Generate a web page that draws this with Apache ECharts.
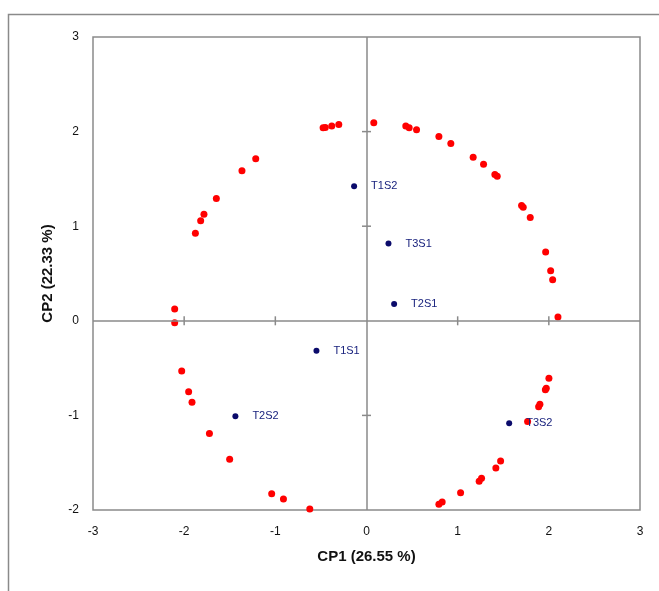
<!DOCTYPE html>
<html>
<head>
<meta charset="utf-8">
<script src="https://cdn.jsdelivr.net/npm/echarts@6/dist/echarts.min.js"></script>
<style>
  html, body { margin: 0; padding: 0; background: #fff; }
  #chart { width: 659px; height: 591px; }
</style>
</head>
<body>
<div id="chart"></div>
<script>
// Variable loadings on the first two principal components (circle of correlations)
const variablePoints = [
  [-0.476, 2.041], [-0.452, 2.044], [-0.381, 2.058], [-0.304, 2.076],
  [0.080, 2.094], [0.431, 2.058], [0.468, 2.041], [0.549, 2.020],
  [0.794, 1.949], [0.925, 1.875], [1.170, 1.730], [1.284, 1.656],
  [1.408, 1.547], [1.434, 1.529], [1.701, 1.219], [1.719, 1.201],
  [1.796, 1.091], [1.965, 0.728], [2.020, 0.530], [2.042, 0.435],
  [2.100, 0.040], [2.001, -0.606], [1.962, -0.728], [1.972, -0.712],
  [1.902, -0.881], [1.888, -0.909], [1.767, -1.065], [1.471, -1.481],
  [1.419, -1.555], [1.262, -1.664], [1.236, -1.696], [1.032, -1.817],
  [0.830, -1.915], [0.794, -1.939], [-0.622, -1.989], [-0.911, -1.883],
  [-1.040, -1.827], [-1.501, -1.463], [-1.723, -1.192], [-1.914, -0.860],
  [-1.951, -0.751], [-2.027, -0.531], [-2.104, -0.020], [-2.104, 0.125],
  [-1.877, 0.925], [-1.819, 1.057], [-1.783, 1.126], [-1.647, 1.293],
  [-1.366, 1.586], [-1.215, 1.713]
];

// Treatment scores
const treatmentNames = ['T1S1', 'T1S2', 'T2S1', 'T2S2', 'T3S1', 'T3S2'];
const treatmentCP1 = [-0.549, -0.136, 0.303, -1.438, 0.241, 1.565];
const treatmentCP2 = [-0.317, 1.423, 0.178, -1.008, 0.816, -1.082];

// Axis ranges and tick positions
const xRange = [-3, 3];
const yRange = [-2, 3];
const axisStep = 1;
const xCentreTicks = [-2, -1, 1, 2];
const yCentreTicks = [-1, 1, 2];

const xTitle = 'CP1 (26.55 %)';
const yTitle = 'CP2 (22.33 %)';

const font = '"Liberation Sans", Arial, sans-serif';
const frameColor = '#8a8a8a';

const treatmentData = treatmentNames.map((n, i) => ({
  name: n, value: [treatmentCP1[i], treatmentCP2[i]]
}));

// Tick marks crossing the central axes
const xTickMarks = xCentreTicks.map(v => [v, 0]);
const yTickMarks = yCentreTicks.map(v => [0, v]);

const chart = echarts.init(document.getElementById('chart'), null, { renderer: 'canvas' });

chart.setOption({
  backgroundColor: '#ffffff',
  animation: false,
  graphic: [{
    type: 'rect',
    shape: { x: 8.5, y: 14.5, width: 800, height: 800 },
    style: { fill: 'none', stroke: frameColor, lineWidth: 1.5 },
    silent: true, z: -10
  }],
  grid: {
    left: 93, top: 37, right: 19, bottom: 81,
    show: true, borderColor: frameColor, borderWidth: 1.5,
    backgroundColor: 'transparent'
  },
  xAxis: {
    type: 'value', min: xRange[0], max: xRange[1], interval: axisStep,
    axisLine: { show: false, onZero: false },
    axisTick: { show: false },
    splitLine: { show: false },
    axisLabel: { color: '#111', fontFamily: font, fontSize: 12, margin: 16 },
    name: xTitle, nameLocation: 'middle', nameGap: 39,
    nameTextStyle: { color: '#111', fontFamily: font, fontSize: 15, fontWeight: 'bold' }
  },
  yAxis: {
    type: 'value', min: yRange[0], max: yRange[1], interval: axisStep,
    axisLine: { show: false, onZero: false },
    axisTick: { show: false },
    splitLine: { show: false },
    axisLabel: { color: '#111', fontFamily: font, fontSize: 12, margin: 14 },
    name: yTitle, nameLocation: 'middle', nameGap: 38,
    nameTextStyle: { color: '#111', fontFamily: font, fontSize: 15, fontWeight: 'bold' }
  },
  series: [
    {
      // central axes through the origin
      type: 'scatter', data: [], silent: true,
      markLine: {
        silent: true, symbol: 'none', animation: false,
        label: { show: false },
        lineStyle: { color: frameColor, width: 1.5, type: 'solid', opacity: 1 },
        data: [{ xAxis: 0 }, { yAxis: 0 }]
      }
    },
    {
      type: 'scatter', data: xTickMarks, symbol: 'rect',
      symbolSize: [1.5, 9], itemStyle: { color: frameColor, opacity: 1 }, silent: true
    },
    {
      type: 'scatter', data: yTickMarks, symbol: 'rect',
      symbolSize: [9, 1.5], itemStyle: { color: frameColor, opacity: 1 }, silent: true
    },
    {
      name: 'variables', type: 'scatter', data: variablePoints,
      symbol: 'circle', symbolSize: 7,
      itemStyle: { color: '#ff0000', opacity: 1 }, z: 3
    },
    {
      name: 'treatments', type: 'scatter', data: treatmentData,
      symbol: 'circle', symbolSize: 6,
      itemStyle: { color: '#0b0b6b', opacity: 1 }, z: 4,
      label: {
        show: true, position: 'right', distance: 14,
        formatter: '{b}', color: '#1a237e',
        fontFamily: font, fontSize: 11
      }
    }
  ]
});
</script>
</body>
</html>
